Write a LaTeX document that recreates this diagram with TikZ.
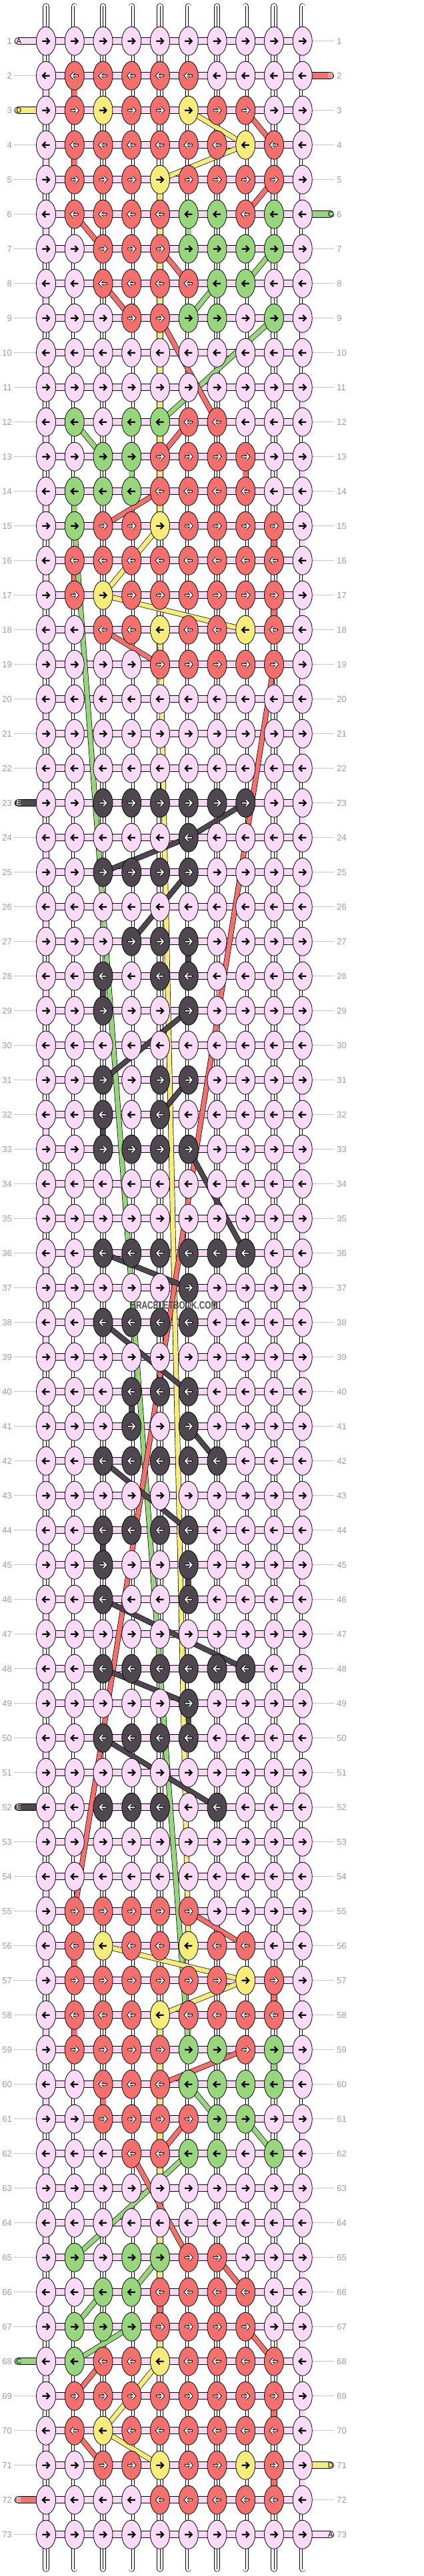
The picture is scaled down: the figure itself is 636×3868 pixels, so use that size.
\documentclass[tikz,border=0pt]{standalone}
\usepackage{fontspec}
\setmainfont{Liberation Sans}
\usetikzlibrary{shapes.geometric}
\definecolor{kP}{HTML}{FBDAF8}
\definecolor{kR}{HTML}{F5706C}
\definecolor{kY}{HTML}{F6EC78}
\definecolor{kG}{HTML}{98D67C}
\definecolor{kK}{HTML}{4F474F}
\definecolor{numgray}{HTML}{9C9C9C}
\definecolor{rulegray}{HTML}{C4C4C4}
\definecolor{wmgray}{HTML}{505050}
\newcommand\rownumfont{\fontsize{13}{13}\selectfont}
\newcommand\stubfont{\fontsize{11}{11}\selectfont}
\tikzset{
  kn/.style={ellipse, draw=black, line width=0.8pt, minimum width=29pt, minimum height=43pt, inner sep=0pt},
  hband/.style={draw=black, line width=0.8pt, double=kP, double distance=9.4pt},
  endturn/.style={draw=black, line width=0.8pt, double=kP, double distance=7.6pt},
  cstr/.style={draw=black, line width=0.7pt, double=#1, double distance=8pt},
  fstr/.style={draw=black, line width=0.7pt, double=#1, double distance=6.6pt},
  stubst/.style={draw=black, line width=0.8pt, double=#1, double distance=9.4pt, line cap=round},
  rownum/.style={inner sep=0pt, text=numgray, font=\rownumfont},
  pics/arrb/.style={code={\draw[line width=2.2pt,line join=miter] (-5.7,0)--(4.2,0) (0.6,4.6)--(5.0,0)--(0.6,-4.6);}},
  pics/arrw/.style={code={\draw[line width=3.5pt,line join=miter] (-6.0,0)--(4.2,0) (0.6,4.6)--(5.0,0)--(0.6,-4.6);
                          \draw[white,line width=1.7pt,line join=miter] (-5.1,0)--(4.2,0) (0.6,4.6)--(5.0,0)--(0.6,-4.6);}},
}
\newcommand\krow[2]{%
  \ifodd#1\def\kang{0}\else\def\kang{180}\fi
  \foreach \cc [count=\c] in {#2} {%
    \node[kn, fill=k\cc] (k-\c-#1) at (p-\c-#1) {};
    \if R\cc \def\kw{1}\else\if K\cc \def\kw{1}\else\def\kw{0}\fi\fi
    \ifnum\kw=1 \pic[rotate=\kang] at (p-\c-#1) {arrw};\else \pic[rotate=\kang] at (p-\c-#1) {arrb};\fi
  }%
}
\begin{document}
\begin{tikzpicture}[x=1pt,y=1pt]
\useasboundingbox (0,0) rectangle (636,-3868);
\fill[white] (0,0) rectangle (636,-3868);
% knot positions
\foreach \r in {1,...,73}{\foreach \c in {1,...,10}{\coordinate (p-\c-\r) at ({26.25+42.75*\c},{-9.7-52*\r});}}
% vertical white strings
\foreach \c in {1,...,10}{
  \pgfmathsetmacro\sx{26.25+42.75*\c}
  \draw[line width=9.2pt,line cap=round] (\sx,-9.6)--(\sx,-3857.2);
  \draw[white,line width=7.8pt,line cap=round] (\sx,-9.6)--(\sx,-3857.2);
  \draw[line width=0.6pt] (\sx,-9.0)--(\sx,-3857.8);
}
% horizontal pink bands and end turns
\foreach \r in {1,...,73}{\draw[hband] (p-1-\r)--(p-10-\r);}
\foreach \r in {1,...,72}{
  \pgfmathtruncatemacro\tc{mod(\r,2)==1?10:1}
  \pgfmathtruncatemacro\rn{\r+1}
  \draw[endturn] (p-\tc-\r)--(p-\tc-\rn);
}
% side rules and row numbers
\foreach \r in {1,...,73}{
  \draw[rulegray,line width=0.9pt] (p-1-\r) ++(-48,0) -- ++(33,0);
  \draw[rulegray,line width=0.9pt] (p-10-\r) ++(14.3,0) -- ++(33,0);
  \path (p-1-\r) ++(-51,0) node[rownum,anchor=east] (ln-\r) {\r};
  \path (p-10-\r) ++(51.5,0) node[rownum,anchor=west] (rn-\r) {\r};
}
% side stubs
\draw[stubst=kP] (p-1-1) -- ++(-41.8,0);
\draw[stubst=kY] (p-1-3) -- ++(-41.8,0);
\draw[stubst=kK] (p-1-23) -- ++(-41.8,0);
\draw[stubst=kK] (p-1-52) -- ++(-41.8,0);
\draw[stubst=kG] (p-1-68) -- ++(-41.8,0);
\draw[stubst=kR] (p-1-72) -- ++(-41.8,0);
\draw[stubst=kR] (p-10-2) -- ++(41.75,0);
\draw[stubst=kG] (p-10-6) -- ++(41.75,0);
\draw[stubst=kY] (p-10-71) -- ++(41.75,0);
\draw[stubst=kP] (p-10-73) -- ++(41.75,0);
% vertical colored connectors
\foreach \c/\r in {5/5,5/6,5/7,5/8,5/9,5/10,5/11,5/12,5/13,5/14,5/58,5/59,5/60,5/61,5/62,5/64,5/65,5/67}{
  \pgfmathtruncatemacro\rn{\r+1}\draw[cstr=kY] (p-\c-\r)--(p-\c-\rn);}
\foreach \c/\r in {2/2,2/4,2/16,2/56,2/58,8/13,9/15,9/17,9/57,9/69,9/71,3/60,5/66}{
  \pgfmathtruncatemacro\rn{\r+1}\draw[cstr=kR] (p-\c-\r)--(p-\c-\rn);}
\foreach \c/\r in {6/6,6/58,4/13,2/14,9/59}{
  \pgfmathtruncatemacro\rn{\r+1}\draw[cstr=kG] (p-\c-\r)--(p-\c-\rn);}
\foreach \c/\r in {6/27,6/45,6/49,3/28,3/32,3/44,4/40}{
  \pgfmathtruncatemacro\rn{\r+1}\draw[cstr=kK] (p-\c-\r)--(p-\c-\rn);}
% floating strings
\foreach \xa/\ya/\xb/\yb in {9/7/8/8,7/8/6/9,9/9/5/12,2/12/3/13,2/15/6/59,6/60/7/61,8/61/9/62,6/62/2/65,5/65/4/66,3/66/2/67,4/67/2/68}{
  \draw[fstr=kG] (p-\xa-\ya)--(p-\xb-\yb);}
\foreach \xa/\ya/\xb/\yb in {6/3/8/4,8/4/5/5,5/15/3/17,3/17/8/18,5/18/6/56,3/56/8/57,8/57/5/58,5/68/3/70,3/70/5/71}{
  \draw[fstr=kY] (p-\xa-\ya)--(p-\xb-\yb);}
\foreach \xa/\ya/\xb/\yb in {8/3/9/4,9/5/8/6,2/6/3/7,5/7/6/8,3/8/4/9,5/9/7/12,6/12/5/13,5/14/3/15,3/18/5/19,9/19/2/55,6/55/8/56,8/59/5/60,6/61/5/62,4/62/6/65,7/65/8/66,8/67/9/68,3/68/2/69,2/70/3/71}{
  \draw[fstr=kR] (p-\xa-\ya)--(p-\xb-\yb);}
\foreach \xa/\ya/\xb/\yb in {8/23/6/24,6/24/3/25,6/25/4/27,6/29/3/31,6/31/5/32,6/33/8/36,3/36/6/37,3/38/6/40,6/41/7/42,3/42/6/44,3/46/8/48,3/48/6/49,3/50/7/52}{
  \draw[fstr=kK] (p-\xa-\ya)--(p-\xb-\yb);}
% knots
\krow{1}{P,P,P,P,P,P,P,P,P,P}
\krow{2}{P,R,R,R,R,R,P,P,P,P}
\krow{3}{P,R,Y,R,R,Y,R,R,P,P}
\krow{4}{P,R,R,R,R,R,R,Y,R,P}
\krow{5}{P,R,R,R,Y,R,R,R,R,P}
\krow{6}{P,R,R,R,R,G,G,R,G,P}
\krow{7}{P,P,R,R,R,G,G,G,G,P}
\krow{8}{P,P,R,R,R,R,G,G,P,P}
\krow{9}{P,P,P,R,R,G,G,P,G,P}
\krow{10}{P,P,P,P,P,P,P,P,P,P}
\krow{11}{P,P,P,P,P,P,P,P,P,P}
\krow{12}{P,G,P,G,G,R,R,P,P,P}
\krow{13}{P,P,G,G,R,R,R,R,P,P}
\krow{14}{P,G,G,G,R,R,R,R,P,P}
\krow{15}{P,G,R,R,Y,R,R,R,R,P}
\krow{16}{P,R,R,R,R,R,R,R,R,P}
\krow{17}{P,R,Y,R,R,R,R,R,R,P}
\krow{18}{P,P,R,R,Y,R,R,Y,R,P}
\krow{19}{P,P,P,P,R,R,R,R,R,P}
\krow{20}{P,P,P,P,P,P,P,P,P,P}
\krow{21}{P,P,P,P,P,P,P,P,P,P}
\krow{22}{P,P,P,P,P,P,P,P,P,P}
\krow{23}{P,P,K,K,K,K,K,K,P,P}
\krow{24}{P,P,P,P,P,K,P,P,P,P}
\krow{25}{P,P,K,K,K,K,P,P,P,P}
\krow{26}{P,P,P,P,P,P,P,P,P,P}
\krow{27}{P,P,P,K,K,K,P,P,P,P}
\krow{28}{P,P,K,P,K,K,P,P,P,P}
\krow{29}{P,P,K,P,P,K,P,P,P,P}
\krow{30}{P,P,P,P,P,P,P,P,P,P}
\krow{31}{P,P,K,P,K,K,P,P,P,P}
\krow{32}{P,P,K,P,K,P,P,P,P,P}
\krow{33}{P,P,K,K,K,K,P,P,P,P}
\krow{34}{P,P,P,P,P,P,P,P,P,P}
\krow{35}{P,P,P,P,P,P,P,P,P,P}
\krow{36}{P,P,K,K,K,K,K,K,P,P}
\krow{37}{P,P,P,P,P,K,P,P,P,P}
\krow{38}{P,P,K,K,K,K,P,P,P,P}
\krow{39}{P,P,P,P,P,P,P,P,P,P}
\krow{40}{P,P,P,K,K,K,P,P,P,P}
\krow{41}{P,P,P,K,P,K,P,P,P,P}
\krow{42}{P,P,K,K,K,K,K,P,P,P}
\krow{43}{P,P,P,P,P,P,P,P,P,P}
\krow{44}{P,P,K,K,K,K,P,P,P,P}
\krow{45}{P,P,K,P,P,K,P,P,P,P}
\krow{46}{P,P,K,P,P,K,P,P,P,P}
\krow{47}{P,P,P,P,P,P,P,P,P,P}
\krow{48}{P,P,K,K,K,K,K,K,P,P}
\krow{49}{P,P,P,P,P,K,P,P,P,P}
\krow{50}{P,P,K,K,K,K,P,P,P,P}
\krow{51}{P,P,P,P,P,P,P,P,P,P}
\krow{52}{P,P,K,K,K,P,K,P,P,P}
\krow{53}{P,P,P,P,P,P,P,P,P,P}
\krow{54}{P,P,P,P,P,P,P,P,P,P}
\krow{55}{P,R,R,R,R,R,P,P,P,P}
\krow{56}{P,R,Y,R,R,Y,R,R,P,P}
\krow{57}{P,R,R,R,R,R,R,Y,R,P}
\krow{58}{P,R,R,R,Y,R,R,R,R,P}
\krow{59}{P,R,R,R,R,G,G,R,G,P}
\krow{60}{P,P,R,R,R,G,G,G,G,P}
\krow{61}{P,P,R,R,R,R,G,G,P,P}
\krow{62}{P,P,P,R,R,G,G,P,G,P}
\krow{63}{P,P,P,P,P,P,P,P,P,P}
\krow{64}{P,P,P,P,P,P,P,P,P,P}
\krow{65}{P,G,P,G,G,R,R,P,P,P}
\krow{66}{P,P,G,G,R,R,R,R,P,P}
\krow{67}{P,G,G,G,R,R,R,R,P,P}
\krow{68}{P,G,R,R,Y,R,R,R,R,P}
\krow{69}{P,R,R,R,R,R,R,R,R,P}
\krow{70}{P,R,Y,R,R,R,R,R,R,P}
\krow{71}{P,P,R,R,Y,R,R,Y,R,P}
\krow{72}{P,P,P,P,R,R,R,R,R,P}
\krow{73}{P,P,P,P,P,P,P,P,P,P}
% stub letters
\path (p-1-1) ++(-40.7,0) node[font=\stubfont,text=black,inner sep=0pt] (sA1) {A};
\path (p-1-3) ++(-40.7,0) node[font=\stubfont,text=black,inner sep=0pt] (sD1) {D};
\path (p-1-23) ++(-40.7,0) node[font=\stubfont,text=white,inner sep=0pt] (sE1) {E};
\path (p-1-52) ++(-40.7,0) node[font=\stubfont,text=white,inner sep=0pt] (sE2) {E};
\path (p-1-68) ++(-40.7,0) node[font=\stubfont,text=black,inner sep=0pt] (sC2) {C};
\path (p-1-72) ++(-40.7,0) node[font=\stubfont,text=white,inner sep=0pt] (sB2) {B};
\path (p-10-2) ++(42,0) node[font=\stubfont,text=white,inner sep=0pt] (sB1) {B};
\path (p-10-6) ++(42,0) node[font=\stubfont,text=black,inner sep=0pt] (sC1) {C};
\path (p-10-71) ++(42,0) node[font=\stubfont,text=black,inner sep=0pt] (sD2) {D};
\path (p-10-73) ++(42,0) node[font=\stubfont,text=black,inner sep=0pt] (sA2) {A};
% watermark
\node[text=wmgray, font=\bfseries\fontsize{16}{16}\selectfont, inner sep=0pt] (wm) at (261,-1960) {\scalebox{0.74}[1]{BRACELETBOOK.COM}};
\end{tikzpicture}
\end{document}
